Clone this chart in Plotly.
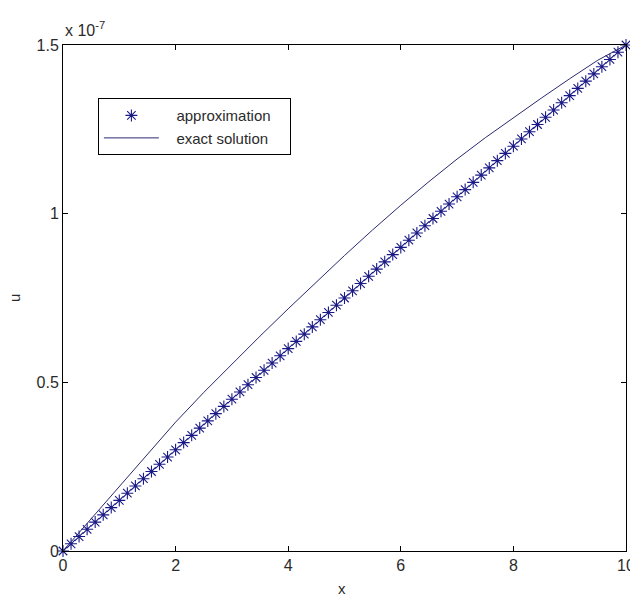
import plotly.graph_objects as go

# Discrete nodes of the numerical scheme (h = 1/7) and the computed values (units of 1e-7)
x_nodes = [
    0, 0.1429, 0.2857, 0.4286, 0.5714, 0.7143, 0.8571,
    1, 1.1429, 1.2857, 1.4286, 1.5714, 1.7143, 1.8571,
    2, 2.1429, 2.2857, 2.4286, 2.5714, 2.7143, 2.8571,
    3, 3.1429, 3.2857, 3.4286, 3.5714, 3.7143, 3.8571,
    4, 4.1429, 4.2857, 4.4286, 4.5714, 4.7143, 4.8571,
    5, 5.1429, 5.2857, 5.4286, 5.5714, 5.7143, 5.8571,
    6, 6.1429, 6.2857, 6.4286, 6.5714, 6.7143, 6.8571,
    7, 7.1429, 7.2857, 7.4286, 7.5714, 7.7143, 7.8571,
    8, 8.1429, 8.2857, 8.4286, 8.5714, 8.7143, 8.8571,
    9, 9.1429, 9.2857, 9.4286, 9.5714, 9.7143, 9.8571,
    10,
]
u_approx = [
    0, 0.0214, 0.0429, 0.0643, 0.0857, 0.1071, 0.1286,
    0.15, 0.1714, 0.1929, 0.2143, 0.2357, 0.2571, 0.2786,
    0.30, 0.3214, 0.3429, 0.3643, 0.3857, 0.4071, 0.4286,
    0.45, 0.4714, 0.4929, 0.5143, 0.5357, 0.5571, 0.5786,
    0.60, 0.6214, 0.6429, 0.6643, 0.6857, 0.7071, 0.7286,
    0.75, 0.7714, 0.7929, 0.8143, 0.8357, 0.8571, 0.8786,
    0.90, 0.9214, 0.9429, 0.9643, 0.9857, 1.0071, 1.0286,
    1.05, 1.0714, 1.0929, 1.1143, 1.1357, 1.1571, 1.1786,
    1.20, 1.2214, 1.2429, 1.2643, 1.2857, 1.3071, 1.3286,
    1.35, 1.3714, 1.3929, 1.4143, 1.4357, 1.4571, 1.4786,
    1.50,
]

# Exact solution sampled on a coarser grid (units of 1e-7)
x_exact = [0, 0.5, 1, 1.5, 2, 2.5, 3, 3.5, 4, 4.5, 5,
           5.5, 6, 6.5, 7, 7.5, 8, 8.5, 9, 9.5, 10]
u_exact = [0, 0.096, 0.192, 0.288, 0.382, 0.470, 0.555, 0.637, 0.718, 0.798, 0.876,
           0.952, 1.025, 1.095, 1.162, 1.225, 1.285, 1.343, 1.400, 1.455, 1.5]

x_ticks = [0, 2, 4, 6, 8, 10]
y_ticks = [0, 0.5, 1, 1.5]
y_tick_labels = ["0", "0.5", "1", "1.5"]

FONT = "Liberation Sans, Arial, sans-serif"
TXT = "#2b2b2b"
PAD = "\u00a0\u00a0\u00a0"  # extra gap between legend symbol and its text

fig = go.Figure()
fig.add_trace(go.Scatter(
    x=x_nodes, y=u_approx, mode="markers", name=PAD + "approximation",
    cliponaxis=False,
    marker=dict(symbol="asterisk-open", size=10, color="#1a1a86",
                line=dict(color="#1a1a86", width=1.1)),
))
fig.add_trace(go.Scatter(
    x=x_exact, y=u_exact, mode="lines", name=PAD + "exact solution" + PAD + "\u00a0",
    line=dict(color="#2a2a70", width=1),
))

axis_common = dict(
    showline=True, linecolor="black", linewidth=1, mirror="ticks",
    ticks="inside", ticklen=5, tickcolor="black", tickwidth=1,
    showgrid=False, zeroline=False, ticklabeloverflow="allow", automargin=False,
    tickfont=dict(family=FONT, size=16, color=TXT),
)
fig.update_xaxes(range=[0, 10], tickvals=x_ticks, **axis_common)
fig.update_yaxes(range=[0, 1.5], tickvals=y_ticks, ticktext=y_tick_labels, **axis_common)

fig.update_layout(
    width=630, height=600,
    margin=dict(l=63, r=4, t=45, b=49),
    paper_bgcolor="white", plot_bgcolor="white",
    showlegend=True,
    legend=dict(
        x=0.062, y=0.895, xanchor="left", yanchor="top",
        bordercolor="black", borderwidth=1, bgcolor="white",
        font=dict(family=FONT, size=15, color=TXT),
        itemwidth=55, tracegroupgap=0,
    ),
    annotations=[
        dict(text="x 10<sup>-7</sup>", xref="paper", yref="paper", x=0, y=1,
             xanchor="left", yanchor="bottom", yshift=4, showarrow=False,
             font=dict(family=FONT, size=16, color=TXT)),
        dict(text="x", xref="paper", yref="paper", x=0.496, y=0,
             xanchor="center", yanchor="middle", yshift=-37, showarrow=False,
             font=dict(family=FONT, size=15, color=TXT)),
        dict(text="u", xref="paper", yref="paper", x=0, y=0.5,
             xanchor="center", yanchor="middle", xshift=-49, textangle=-90,
             showarrow=False, font=dict(family=FONT, size=15, color=TXT)),
    ],
)

fig.write_html("out.html")
